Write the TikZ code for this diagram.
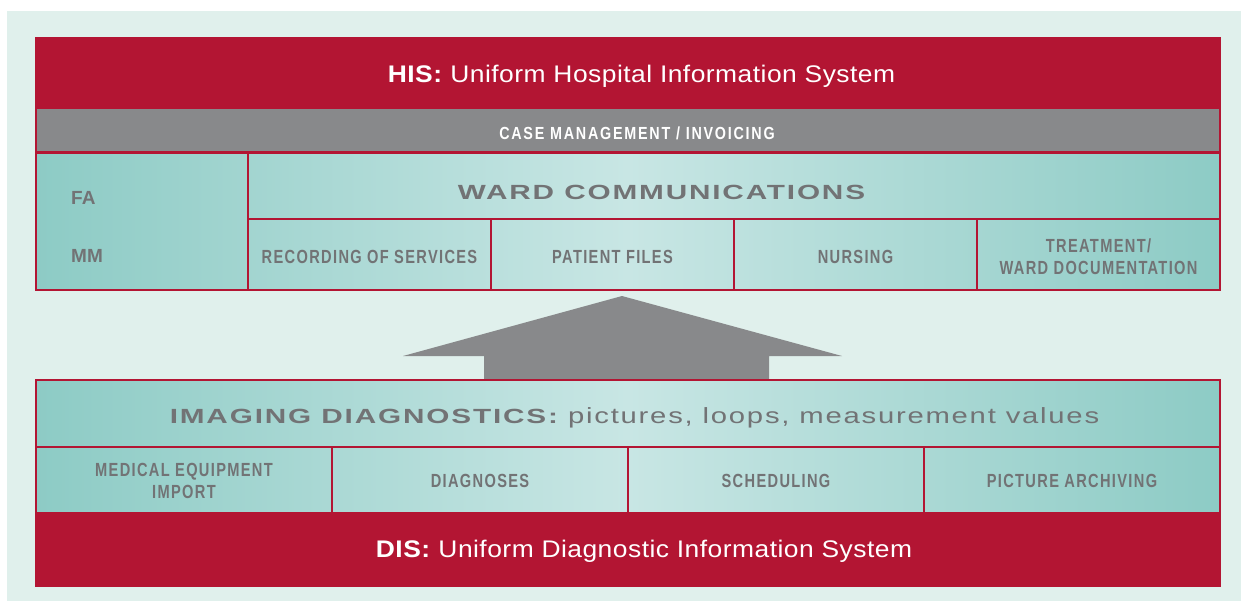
\documentclass[tikz,border=0pt]{standalone}
\usepackage{fontspec}
\setmainfont{Liberation Sans}
\newfontfamily\narrowfont[FakeStretch=0.77,LetterSpace=7]{Liberation Sans}
\newfontfamily\barfont[FakeStretch=0.82,LetterSpace=10]{Liberation Sans}
\newfontfamily\widefont[FakeStretch=1.45,LetterSpace=9]{Liberation Sans}
\newfontfamily\airyfont[FakeStretch=1.33,LetterSpace=8]{Liberation Sans}
\newfontfamily\titlefont[FakeStretch=1.1,LetterSpace=2]{Liberation Sans}

\definecolor{hisred}{HTML}{B31533}
\definecolor{bargray}{HTML}{88898B}
\definecolor{labelgray}{HTML}{727375}
\definecolor{tealdark}{HTML}{8DCBC5}
\definecolor{teallight}{HTML}{C8E6E4}
\definecolor{paper}{HTML}{E0F0EC}

\begin{document}
\begin{tikzpicture}[x=1pt,y=-1pt,
    box/.style={draw=hisred,line width=2pt,inner sep=0pt,outer sep=0pt},
    tag/.style={text=labelgray,align=center,inner sep=0pt,
      font=\narrowfont\bfseries\fontsize{19}{22}\selectfont},
    head/.style={text=labelgray,inner sep=0pt,anchor=base,
      font=\widefont\bfseries\fontsize{20.5}{24}\selectfont},
    title/.style={text=white,inner sep=0pt,anchor=base,
      font=\titlefont\fontsize{24}{28}\selectfont},
  ]
  \useasboundingbox (0,0) rectangle (1245,603);
  \fill[paper] (7,11) rectangle (1241,601);

  % upper block: HIS
  \shade[left color=tealdark,right color=tealdark,middle color=teallight]
    (36,152) rectangle (1220,290);
  \node[box,fill=hisred,minimum width=1184,minimum height=70] (his) at (628,73) {};
  \node[box,fill=bargray,minimum width=1184,minimum height=44] (case) at (628,130) {};
  \node[box,minimum width=212,minimum height=137] (famm) at (142,221) {};
  \node[box,minimum width=972,minimum height=66.5] (ward) at (734,185.75) {};
  \foreach \t [count=\i] in {RECORDING OF SERVICES,PATIENT FILES,NURSING,{TREATMENT/\\WARD DOCUMENTATION}}
  {   \node[box,minimum width=243,minimum height=70.5] (ward-\i) at ({248+243*(\i-0.5)},254.25) {};
      \node[tag] (ward-\i-text) at (ward-\i |- 0,256.5) {\t};
  }
  \node[title] (his-text) at (641.5,82) {\textbf{HIS:} Uniform Hospital Information System};
  \node[tag,anchor=base,text=white,font=\barfont\bfseries\fontsize{17.5}{20}\selectfont]
    (case-text) at (637,139) {CASE MANAGEMENT / INVOICING};
  \node[head] (ward-text) at (661.5,199) {WARD COMMUNICATIONS};
  \node[tag,anchor=base west,font=\bfseries\fontsize{19}{22}\selectfont] (fa) at (71,204) {FA};
  \node[tag,anchor=base west,font=\bfseries\fontsize{19}{22}\selectfont] (mm) at (71,262) {MM};

  % big arrow between the blocks
  \fill[bargray] (484,380) -- (484,356) -- (403,356) -- (622,296)
    -- (842,356) -- (769,356) -- (769,380) -- cycle;

  % lower block: DIS
  \shade[left color=tealdark,right color=tealdark,middle color=teallight]
    (36,380) rectangle (1220,513);
  \node[box,minimum width=1184,minimum height=67] (img) at (628,413.5) {};
  \foreach \t [count=\i] in {{MEDICAL EQUIPMENT\\IMPORT},DIAGNOSES,SCHEDULING,PICTURE ARCHIVING}
  {   \node[box,minimum width=296,minimum height=66] (img-\i) at ({36+296*(\i-0.5)},480) {};
      \node[tag] (img-\i-text) at (img-\i |- 0,480.5) {\t};
  }
  \node[box,fill=hisred,minimum width=1184,minimum height=73] (dis) at (628,549.5) {};
  \node[head] (img-text) at (634.5,423)
    {IMAGING DIAGNOSTICS: {\airyfont\mdseries\fontsize{22}{26}\selectfont pictures, loops, measurement values}};
  \node[title] (dis-text) at (644,557.5) {\textbf{DIS:} Uniform Diagnostic Information System};
\end{tikzpicture}
\end{document}
